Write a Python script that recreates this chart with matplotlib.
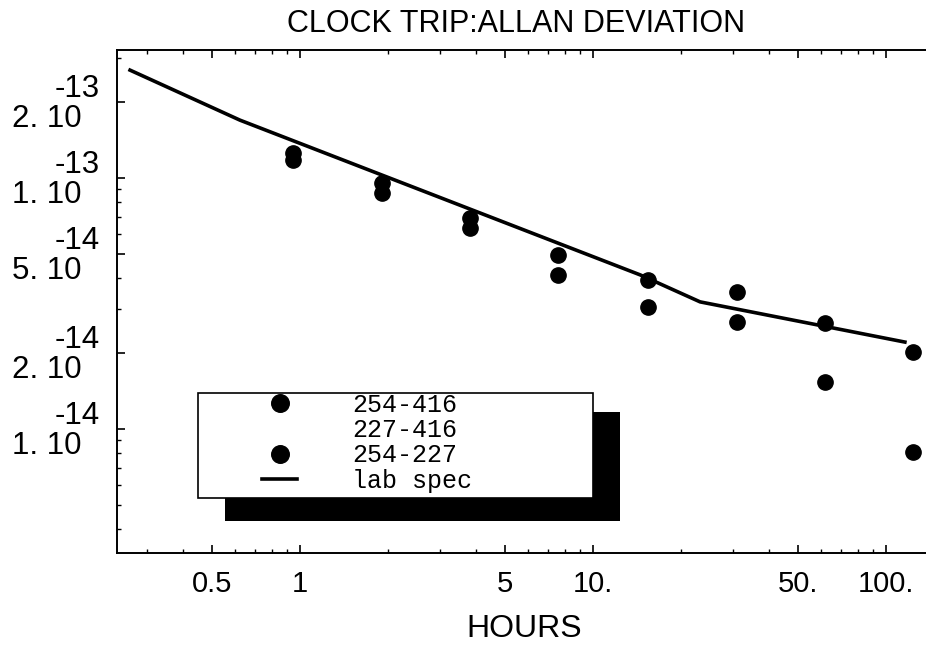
import matplotlib
matplotlib.use("Agg")
import matplotlib.pyplot as plt
import matplotlib.transforms as mtransforms
from matplotlib.patches import Rectangle
from matplotlib.ticker import LogLocator, NullFormatter

# averaging time (hours) and Allan deviation
hours = [0.95, 1.9, 3.8, 7.6, 15.4, 31.0, 62.0, 124.0]
adev_254_416 = [1.26e-13, 9.55e-14, 6.93e-14, 4.94e-14, 3.93e-14, 3.52e-14, 2.64e-14, 2.03e-14]
adev_227_416 = []
adev_254_227 = [1.18e-13, 8.71e-14, 6.33e-14, 4.11e-14, 3.06e-14, 2.67e-14, 1.54e-14, 8.1e-15]

spec_hours = [0.263, 0.624, 14.5, 23.2, 116.0]
spec_adev = [2.69e-13, 1.70e-13, 4.11e-14, 3.21e-14, 2.22e-14]

xticks = [0.5, 1, 5, 10, 50, 100]
xticklabels = ["0.5", "1", "5", "10.", "50.", "100."]
yticks = [1e-14, 2e-14, 5e-14, 1e-13, 2e-13]
ytick_mant = ["1.", "2.", "5.", "1.", "2."]
ytick_exp = ["-14", "-14", "-14", "-13", "-13"]

plt.rcParams['font.family'] = ['Liberation Sans', 'DejaVu Sans']

W, H = 926, 655
fig = plt.figure(figsize=(W / 100, H / 100), dpi=100)
ax = fig.add_axes([117 / W, 1 - 553 / H, 809 / W, 503 / H])

spec_line, = ax.plot(spec_hours, spec_adev, color='black', lw=2.6, label='lab spec', zorder=2)
p1, = ax.plot(hours, adev_254_416, ls='none', marker='o', ms=11, color='black', label='254-416')
p2, = ax.plot(hours[:len(adev_227_416)], adev_227_416, ls='none', marker=None, color='black', label='227-416')
p3, = ax.plot(hours, adev_254_227, ls='none', marker='o', ms=11, color='black', label='254-227')

ax.set_xscale('log')
ax.set_yscale('log')
ax.set_xlim(10 ** -0.6246, 10 ** 2.1365)
ax.set_ylim(10 ** -14.494, 10 ** -12.490)

ax.set_xticks(xticks)
ax.set_xticklabels(xticklabels, fontsize=21)
ax.xaxis.set_minor_locator(LogLocator(base=10, subs=range(2, 10)))
ax.xaxis.set_minor_formatter(NullFormatter())
ax.set_yticks(yticks)
ax.set_yticklabels([])
ax.yaxis.set_minor_locator(LogLocator(base=10, subs=range(2, 10)))
ax.yaxis.set_minor_formatter(NullFormatter())

ax.tick_params(axis='x', which='major', direction='in', length=6, width=1.2, top=True, pad=12)
ax.tick_params(axis='x', which='minor', direction='in', length=3, width=1.0, top=True)
ax.tick_params(axis='y', which='major', direction='in', length=6, width=1.2, right=False)
ax.tick_params(axis='y', which='minor', direction='in', length=3, width=1.0, right=False)

for side in ['left', 'bottom', 'top']:
    ax.spines[side].set_linewidth(1.4)
ax.spines['right'].set_visible(False)

# old style "2. 10" with the exponent sitting on the line above
trans = mtransforms.blended_transform_factory(fig.transFigure, ax.transData)
up = mtransforms.ScaledTranslation(0, 0.13, fig.dpi_scale_trans)
down = mtransforms.ScaledTranslation(0, -0.17, fig.dpi_scale_trans)
for v, m, e in zip(yticks, ytick_mant, ytick_exp):
    ax.text(100 / W, v, e, transform=trans + up, ha='right', va='center',
            fontsize=22.5, clip_on=False)
    ax.text(82 / W, v, m + " 10", transform=trans + down, ha='right', va='center',
            fontsize=22.5, clip_on=False)

fig.text(516 / W, 1 - 24 / H, "CLOCK TRIP:ALLAN DEVIATION", ha='center', va='center', fontsize=22)
fig.text(524 / W, 1 - 629 / H, "HOURS", ha='center', va='center', fontsize=23)

# legend box with a heavy drop shadow
ax.add_patch(Rectangle((225 / W, 1 - 521 / H), 395 / W, 109 / H, transform=fig.transFigure,
                       facecolor='black', edgecolor='none', zorder=4, clip_on=False))
ax.add_patch(Rectangle((198 / W, 1 - 498 / H), 395 / W, 105 / H, transform=fig.transFigure,
                       facecolor='white', edgecolor='black', lw=1.2, zorder=4.5, clip_on=False))
leg = ax.legend([p1, p2, p3, spec_line], ['254-416', '227-416', '254-227', 'lab spec'],
                loc='upper left', bbox_to_anchor=(262 / W, 1 - 393 / H),
                bbox_transform=fig.transFigure, frameon=False, borderpad=0,
                borderaxespad=0, handlelength=1.4, handletextpad=2.2, labelspacing=0.05,
                markerscale=1.15,
                prop={'family': ['Liberation Mono', 'DejaVu Sans Mono'], 'size': 18})
leg.set_zorder(5)

fig.savefig('out.png', dpi=100)
